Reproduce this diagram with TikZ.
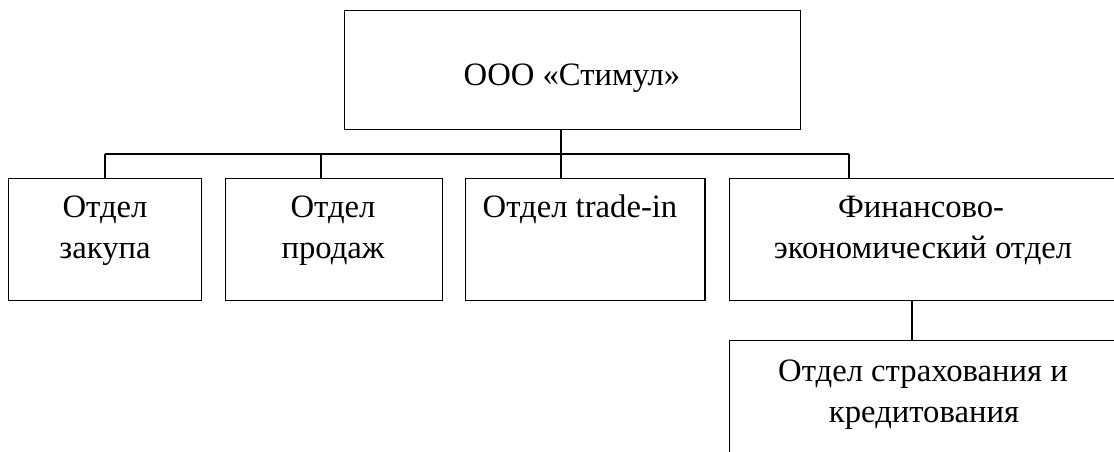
\documentclass[tikz,border=0pt]{standalone}
\usepackage{fontspec}
\setmainfont{Liberation Serif}
\begin{document}
\begin{tikzpicture}[x=0.75pt,y=-0.75pt,
  box/.style={draw, line width=1pt, rectangle, inner sep=0pt, anchor=north west},
  lbl/.style={anchor=base, inner sep=0pt, font=\fontsize{24.5}{29}\selectfont},
  link/.style={line width=1pt}]
\clip (0,0) rectangle (1114,452);
\fill[white] (0,0) rectangle (1114,452);
% boxes
\node[box, minimum width=342pt, minimum height=89.25pt] (top) at (344,10) {};
\node[box, minimum width=144.75pt, minimum height=91.5pt] (b1) at (8,178) {};
\node[box, minimum width=162.75pt, minimum height=91.5pt] (b2) at (225,178) {};
\node[box, minimum width=179.6pt, minimum height=91.5pt] (b3) at (465,178) {};
\node[box, minimum width=291pt, minimum height=91.5pt] (b4) at (729,178) {};
\node[box, minimum width=291pt, minimum height=97.5pt] (b5) at (729,340) {};
% texts
\node[lbl] (t0) at (572,86) {ООО «Стимул»};
\node[lbl] (t1a) at (105,218) {Отдел};
\node[lbl] (t1b) at (105,259) {закупа};
\node[lbl] (t2a) at (333,218) {Отдел};
\node[lbl] (t2b) at (333,259) {продаж};
\node[lbl] (t3a) at (580,218) {Отдел trade-in};
\node[lbl] (t4a) at (921,218) {Финансово-};
\node[lbl] (t4b) at (923,259) {экономический отдел};
\node[lbl] (t5a) at (923,381) {Отдел страхования и};
\node[lbl] (t5b) at (924,422) {кредитования};
% connectors
\coordinate (bus1) at (105,154);
\coordinate (bus2) at (321,154);
\coordinate (bus3) at (561,154);
\coordinate (bus4) at (849,154);
\coordinate (k) at (912,0);
\draw[link] (top.south -| bus3) -- (bus3);
\draw[link] (bus1) -- (bus4);
\draw[link] (bus1) -- (bus1 |- b1.north);
\draw[link] (bus2) -- (bus2 |- b2.north);
\draw[link] (bus3) -- (bus3 |- b3.north);
\draw[link] (bus4) -- (bus4 |- b4.north);
\draw[link] (b4.south -| k) -- (b5.north -| k);
\end{tikzpicture}
\end{document}
